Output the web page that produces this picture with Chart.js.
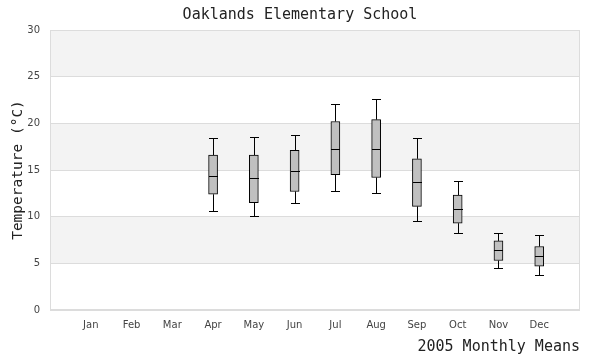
<!DOCTYPE html>
<html>
<head>
<meta charset="utf-8">
<script src="https://cdn.jsdelivr.net/npm/chart.js@4.4.1/dist/chart.umd.min.js"></script>
<style>
html,body{margin:0;padding:0;background:#fff;}
#wrap{width:600px;height:360px;}
</style>
</head>
<body>
<div id="wrap"><canvas id="c" width="600" height="360"></canvas></div>
<script>
const chartTitle = 'Oaklands Elementary School';
const months = ['Jan','Feb','Mar','Apr','May','Jun','Jul','Aug','Sep','Oct','Nov','Dec'];
const whiskerLow  = [null, null, null, 10.6, 10.1, 11.5, 12.7, 12.5, 9.5, 8.2, 4.5, 3.7];
const q1          = [null, null, null, 12.4, 11.5, 12.7, 14.5, 14.2, 11.1, 9.3, 5.3, 4.7];
const median      = [null, null, null, 14.4, 14.1, 14.9, 17.3, 17.3, 13.7, 10.8, 6.4, 5.8];
const q3          = [null, null, null, 16.6, 16.6, 17.1, 20.2, 20.4, 16.2, 12.3, 7.4, 6.8];
const whiskerHigh = [null, null, null, 18.4, 18.5, 18.8, 22.1, 22.6, 18.4, 13.8, 8.2, 8.0];
const yTicks = [0, 5, 10, 15, 20, 25, 30];

const labels = [''].concat(months, ['']);
const boxData = [null].concat(months.map((m, i) => q1[i] == null ? null : [q1[i], q3[i]]), [null]);

const bandsAndWhiskers = {
  id: 'bandsAndWhiskers',
  beforeDraw(chart) {
    const {ctx, chartArea: a, scales: {y}} = chart;
    ctx.save();
    ctx.fillStyle = '#f3f3f3';
    for (let i = 0; i < yTicks.length - 1; i++) {
      if ((yTicks.length - 2 - i) % 2 === 0) {
        const top = y.getPixelForValue(yTicks[i + 1]);
        const bot = y.getPixelForValue(yTicks[i]);
        ctx.fillRect(a.left, top, a.right - a.left, bot - top);
      }
    }
    // chart title, centred on the canvas
    ctx.fillStyle = '#222';
    ctx.font = '15px "DejaVu Sans Mono", monospace';
    ctx.textAlign = 'center';
    ctx.textBaseline = 'alphabetic';
    ctx.fillText(chartTitle, chart.width / 2, 19);
    ctx.restore();
  },
  beforeDatasetsDraw(chart) {
    const {ctx, chartArea: a, scales: {x, y}} = chart;
    ctx.save();
    ctx.strokeStyle = '#dcdcdc';
    ctx.lineWidth = 1;
    ctx.strokeRect(Math.round(a.left) + 0.5, Math.round(a.top) + 0.5, Math.round(a.right - a.left) - 1, Math.round(a.bottom - a.top) - 1);
    ctx.strokeStyle = '#000';
    const half = 4.5;
    months.forEach((m, i) => {
      if (whiskerLow[i] == null) return;
      const cx = Math.round(x.getPixelForValue(i + 1)) + 0.5;
      const yLo = Math.round(y.getPixelForValue(whiskerLow[i])) + 0.5;
      const yQ1 = y.getPixelForValue(q1[i]);
      const yQ3 = y.getPixelForValue(q3[i]);
      const yHi = Math.round(y.getPixelForValue(whiskerHigh[i])) + 0.5;
      ctx.beginPath();
      ctx.moveTo(cx, yHi); ctx.lineTo(cx, yQ3);
      ctx.moveTo(cx, yQ1); ctx.lineTo(cx, yLo);
      ctx.moveTo(cx - half, yHi); ctx.lineTo(cx + half, yHi);
      ctx.moveTo(cx - half, yLo); ctx.lineTo(cx + half, yLo);
      ctx.stroke();
    });
    ctx.restore();
  },
  afterDatasetsDraw(chart) {
    const {ctx, scales: {x, y}} = chart;
    ctx.save();
    ctx.strokeStyle = '#000';
    ctx.lineWidth = 1;
    const half = 4.5;
    months.forEach((m, i) => {
      if (median[i] == null) return;
      const cx = Math.round(x.getPixelForValue(i + 1)) + 0.5;
      const yM = Math.round(y.getPixelForValue(median[i])) + 0.5;
      ctx.beginPath();
      ctx.moveTo(cx - half, yM); ctx.lineTo(cx + half, yM);
      ctx.stroke();
    });
    ctx.restore();
  }
};

new Chart(document.getElementById('c'), {
  type: 'bar',
  data: {
    labels: labels,
    datasets: [{
      label: 'Temperature',
      data: boxData,
      backgroundColor: '#c0c0c0',
      borderColor: '#000',
      borderWidth: 1,
      borderSkipped: false,
      barThickness: 9
    }]
  },
  options: {
    responsive: false,
    animation: false,
    devicePixelRatio: 1,
    layout: {padding: {left: 0, right: 20, top: 30, bottom: 0}},
    plugins: {
      legend: {display: false},
      tooltip: {enabled: false},
      title: {display: false}
    },
    scales: {
      x: {
        type: 'category',
        offset: false,
        grid: {display: false, drawTicks: false},
        border: {display: false},
        ticks: {
          autoSkip: false, maxRotation: 0, padding: 9,
          color: '#444',
          font: {family: '"DejaVu Sans", sans-serif', size: 10}
        },
        title: {
          display: true,
          text: '2005 Monthly Means',
          align: 'end',
          color: '#222',
          font: {family: '"DejaVu Sans Mono", monospace', size: 15, weight: 'normal'},
          padding: {top: 0, bottom: 4}
        },
        afterFit(s) { s.height = 50; }
      },
      y: {
        min: 0, max: 30,
        afterBuildTicks(s) { s.ticks = yTicks.map(v => ({value: v})); },
        grid: {color: '#dcdcdc', drawTicks: false},
        border: {display: false},
        ticks: {
          padding: 10,
          color: '#444',
          font: {family: '"DejaVu Sans", sans-serif', size: 10}
        },
        title: {
          display: true,
          text: 'Temperature (°C)',
          color: '#222',
          font: {family: '"DejaVu Sans Mono", monospace', size: 14.5, weight: 'normal'},
          padding: {top: 10, bottom: 0}
        },
        afterFit(s) { s.width = 50; }
      }
    }
  },
  plugins: [bandsAndWhiskers]
});
</script>
</body>
</html>
